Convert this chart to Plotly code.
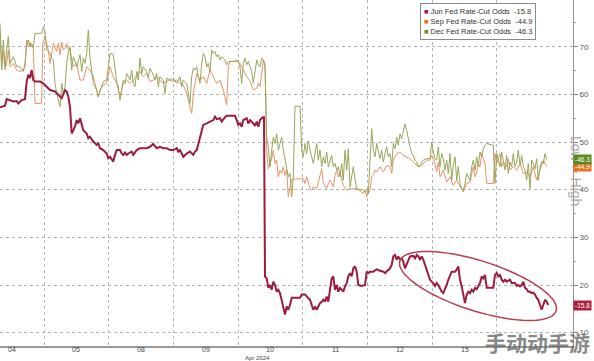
import numpy as np
import plotly.graph_objects as go

# ---------------- data ----------------
# time axis: "t" ticks; one trading session = SESSION ticks
SESSION = 64.7
FIRST_BOUNDARY = 44.0          # start of the 05 session
day_labels = ["04", "05", "08", "09", "10", "11", "12", "15"]
month_label = "Apr 2024"

jun_t = [0,5,6.7,10,13.3,16.7,18.3,21.7,25,26.7,28.3,30,31.7,33.3,35,40,43.3,46.7,50,55,58.3,61.7,65,66.7,68.3,70,71.7,75,76.7,78.3,80,81.7,83.3,86.7,88.3,90,93.3,96.7,98.3,100,103.3,106.7,108.3,110,113.3,115,116.7,120,121.7,123.3,125,126.7,128.3,131.7,133.3,136.7,140,143.3,146.7,150,153.3,156.7,160,163.3,166.7,170,173.3,176.7,178.3,180,183.3,186.7,190,193.3,195,196.7,200,203.3,206.7,210,213.3,215,216.7,220,221.7,225,226.7,230,235,236.7,238.3,240,241.7,243.3,246.7,248.3,250,253.3,255,256.7,258.3,260,262.7,264,265,266.7,268.3,270,271.7,273.3,275,276.7,278.3,280,281.7,283.3,285,286.7,288.3,290,291.7,295,300,301.7,305,306.7,310,311.7,313.3,315,316.7,318.3,320,321.7,323.3,325,326.7,328.3,330,331.7,333.3,335,336.7,338.3,340,341.7,343.3,345,346.7,348.3,350,351.7,353.3,355,356.7,358.3,361.7,365,366.7,368.3,370,373.3,376.7,380,383.3,385,386.7,388.3,390,391.7,393.3,395,396.7,398.3,400,401.7,403.3,405,406.7,408.3,410,413.3,415,416.7,418.3,420,421.7,423.3,425,426.7,428.3,430,431.7,433.3,435,436.7,438.3,440,441.7,443.3,445,446.7,448.3,450,451.7,455,456.7,458.3,460,461.7,463.3,465,466.7,468.3,470,471.7,473.3,475,476.7,478.3,480,481.7,483.3,485,486.7,490,493.3,495,496.7,498.3,500,501.7,503.3,505,506.7,508.3,510,511.7,515,516.7,518.3,520,521.7,523.3,525,526.7,528.3,530,531.7,533.3,535,536.7,538.3,540,541.7,543.3,545,546.7,548.3]
jun_v = [57.3,57.6,59.0,58.8,58.5,58.6,58.1,58.8,59.0,62.7,64.1,63.4,65.1,63.0,62.7,62.7,62.3,61.6,60.9,60.6,59.9,59.2,60.9,60.6,59.5,57.4,51.8,53.2,54.6,53.9,55.0,53.6,52.5,51.8,50.8,51.1,50.1,49.4,49.7,48.7,48.3,47.6,46.6,46.9,45.9,47.3,48.3,48.3,47.6,47.3,47.8,47.3,47.6,48.0,47.3,48.3,48.7,48.7,48.7,49.0,49.6,48.7,49.0,48.7,48.7,48.3,48.3,48.7,48.0,48.3,46.9,47.6,48.0,47.3,48.0,48.3,50.8,53.6,53.9,54.3,54.6,55.3,54.8,55.0,54.3,55.2,55.5,55.5,55.5,54.6,53.6,53.9,53.2,54.6,55.0,53.9,54.6,53.9,53.4,54.3,53.2,54.6,55.2,55.2,21.8,21.4,19.4,20.0,19.0,20.7,20.0,18.6,19.0,18.3,16.9,15.8,13.8,15.5,14.8,15.8,17.3,17.3,17.3,18.0,18.0,17.6,16.9,15.8,14.8,15.4,14.8,15.5,16.2,16.5,16.9,16.5,17.6,16.5,19.4,21.4,21.8,19.0,20.0,18.6,19.4,19.0,18.6,19.7,20.4,21.8,22.5,21.8,23.5,23.9,22.8,20.0,19.8,20.0,22.8,22.5,22.8,22.8,23.3,23.0,22.8,22.5,22.8,23.2,23.5,24.2,26.0,26.3,25.3,26.0,25.4,25.6,24.9,23.5,24.5,25.3,26.0,26.1,25.6,26.3,26.0,25.4,26.0,25.3,24.2,23.2,21.8,21.1,20.7,20.4,19.8,20.4,20.0,19.1,18.6,18.3,19.0,20.0,21.1,22.1,22.8,22.8,23.2,23.9,21.1,19.7,18.0,16.2,18.0,18.6,18.3,19.0,18.6,19.4,19.1,19.7,20.4,21.8,21.4,22.1,19.4,19.4,19.4,22.1,22.5,21.8,22.1,21.1,20.7,21.1,20.7,20.9,21.1,20.4,20.4,19.8,20.0,19.7,20.0,20.7,19.4,19.1,18.6,18.6,18.3,18.4,18.0,17.3,16.9,15.8,14.8,15.8,16.9,16.5,15.8]

sep_t = [0,1.7,3.3,5,6.7,8.3,10,13.3,16.7,20,23.3,25,26.7,28.3,30,31.7,33.3,35,41.7,42.7,45,46.7,48.3,50,51.7,53.3,55,56.7,58.3,60,61.7,63.3,65,66.7,68.3,70,71.7,73.3,76.7,80,83.3,86.7,90,93.3,96.7,98.3,100,103.3,106.7,110,113.3,116.7,120,123.3,126.7,130,133.3,136.7,140,143.3,146.7,150,153.3,156.7,160,163.3,166.7,170,173.3,176.7,180,183.3,186.7,190,191.7,193.3,196.7,200,203.3,206.7,210,213.3,216.7,220,223.3,226.7,228.3,230,233.3,236.7,240,243.3,246.7,250,251.7,253.3,256.7,258.3,260,261.7,263.3,265,266.7,268.3,270,271.7,273.3,275,276.7,278.3,280,281.7,283.3,285,286.7,288.3,290,291.7,293.3,301.7,303.3,305,306.7,308.3,310,311.7,313.3,316.7,318.3,320,321.7,323.3,325,326.7,328.3,330,333.3,335,336.7,338.3,340,341.7,343.3,346.7,350,356.7,363.3,365,366.7,368.3,370,371.7,373.3,375,376.7,380,383.3,386.7,390,391.7,393.3,396.7,400,403.3,406.7,410,413.3,416.7,420,423.3,426.7,430,431.7,435,436.7,438.3,440,443.3,446.7,450,453.3,456.7,460,463.3,466.7,470,471.7,473.3,475,476.7,478.3,480,481.7,483.3,485,486.7,493.3,495,496.7,498.3,500,501.7,503.3,506.7,508.3,510,513.3,516.7,520,523.3,526.7,530,533.3,536.7,540,543.3,546.7]
sep_v = [72.8,65.8,69.3,65.1,66.5,69.3,65.8,66.5,65.1,64.8,65.1,65.8,71.4,70.0,71.0,70.0,70.0,58.1,58.1,70.7,72.1,70.7,69.3,66.5,68.6,70.7,69.7,69.0,70.7,68.3,71.0,69.3,69.7,70.7,69.3,69.7,67.2,65.8,66.5,63.0,63.0,65.8,65.1,63.7,60.9,59.5,60.9,62.0,62.3,65.8,63.7,62.3,59.5,62.3,63.0,62.3,63.0,63.7,64.8,63.7,64.4,62.7,63.0,63.7,63.0,62.3,62.7,63.0,62.7,63.0,62.3,62.0,60.2,57.4,56.0,60.2,64.4,63.0,63.7,62.3,65.1,63.7,62.3,63.0,60.9,57.8,65.8,66.9,66.9,66.9,66.5,65.1,63.7,62.7,61.6,60.9,61.3,62.3,61.6,64.4,67.2,66.5,48.3,44.4,45.5,46.5,48.3,45.5,46.2,42.7,44.1,43.4,44.8,43.0,44.1,38.5,40.6,42.0,42.2,42.2,42.3,41.3,42.7,41.6,40.2,39.9,40.6,40.2,41.6,42.7,44.4,41.3,40.6,40.2,41.3,42.0,40.6,43.0,44.1,42.7,43.7,42.0,40.9,39.9,40.2,40.2,39.2,39.9,38.5,39.2,39.9,42.7,43.0,44.1,43.7,44.8,43.7,45.1,44.8,43.4,46.2,47.6,47.9,47.2,46.9,46.5,45.8,45.1,44.8,45.5,46.2,46.2,47.2,45.5,43.7,45.8,42.7,44.1,41.6,42.7,40.9,42.0,40.6,39.5,41.3,41.6,43.4,44.8,42.7,43.7,45.5,44.8,47.6,46.5,45.5,41.3,41.3,47.6,45.5,46.5,47.6,44.8,45.8,44.8,46.5,44.1,44.8,44.1,45.5,43.4,43.7,42.7,44.8,42.0,44.1,46.2,44.9]

dec_t = [0,1.7,3.3,5,6.7,8.3,10,13.3,16.7,20,23.3,25,26.7,28.3,30,31.7,33.3,35,41.7,43.3,45,46.7,50,51.7,53.3,55,56.7,58.3,60,61.7,63.3,65,66.7,68.3,70,71.7,73.3,75,76.7,80,81.7,83.3,85,86.7,88.3,90,91.7,93.3,96.7,98.3,100,101.7,103.3,106.7,110,113.3,115,116.7,118.3,120,121.7,123.3,125,126.7,130,131.7,133.3,135,136.7,138.3,140,141.7,143.3,146.7,148.3,150,153.3,155,156.7,158.3,160,163.3,165,166.7,170,173.3,176.7,180,181.7,183.3,186.7,188.3,190,191.7,193.3,195,196.7,198.3,200,201.7,203.3,205,206.7,208.3,210,211.7,213.3,215,216.7,218.3,220,221.7,223.3,225,226.7,228.3,233.3,236.7,238.3,240,241.7,243.3,245,246.7,248.3,250,251.7,253.3,255,256.7,258.3,260,261.7,263.3,265,266.7,268.3,270,271.7,273.3,275,276.7,278.3,280,281.7,283.3,285,286.7,288.3,290,291.7,293.3,295,300,301.7,303.3,305,306.7,308.3,310,311.7,313.3,315,316.7,318.3,320,321.7,323.3,325,326.7,328.3,330,331.7,333.3,335,336.7,338.3,340,341.7,343.3,345,346.7,348.3,350,351.7,353.3,355,356.7,360,363.3,365,366.7,368.3,370,371.7,373.3,375,376.7,378.3,380,381.7,383.3,385,386.7,388.3,390,391.7,393.3,395,396.7,398.3,400,401.7,403.3,405,406.7,408.3,410,411.7,413.3,415,416.7,418.3,420,423.3,426.7,430,431.7,433.3,435,436.7,438.3,440,441.7,443.3,445,446.7,448.3,450,451.7,453.3,455,456.7,458.3,460,461.7,463.3,465,466.7,470,471.7,473.3,475,476.7,478.3,480,481.7,483.3,485,486.7,493.3,495,496.7,498.3,500,501.7,503.3,505,506.7,508.3,510,511.7,513.3,515,516.7,518.3,520,521.7,523.3,525,526.7,528.3,530,531.7,533.3,535,536.7,538.3,540,541.7,543.3,545,546.7]
dec_v = [74.9,65.1,71.4,65.8,69.3,72.1,66.5,67.9,65.8,65.8,64.8,66.5,70.7,71.4,70.0,70.7,69.7,72.8,72.8,74.2,73.1,69.3,68.6,67.6,67.2,62.3,60.2,58.8,57.4,62.3,60.2,61.6,66.5,68.6,70.0,65.1,67.9,66.9,65.8,68.3,64.8,67.6,66.5,68.6,73.5,67.6,64.4,62.3,60.9,59.5,60.6,61.6,62.7,63.0,68.6,68.3,65.8,62.7,61.6,58.8,60.9,63.0,62.3,64.4,63.0,65.1,62.3,61.6,64.8,63.0,67.6,64.4,65.8,64.8,63.4,65.5,64.1,63.0,64.4,61.6,63.7,63.0,60.2,63.4,63.0,63.4,62.3,63.7,61.6,63.0,62.3,60.2,58.1,63.7,65.5,65.1,65.8,63.7,62.3,66.5,68.6,67.9,65.8,66.5,64.8,69.3,68.6,69.0,67.9,68.3,67.2,67.9,67.6,67.2,66.2,66.9,66.9,67.2,66.9,65.8,62.3,66.5,67.6,66.2,66.9,65.8,64.8,62.3,65.1,67.2,66.2,65.8,67.6,67.2,65.8,51.0,49.0,44.8,48.3,51.0,49.7,51.7,48.3,49.7,51.0,48.3,46.2,44.8,42.7,43.4,38.5,42.7,57.5,57.5,48.3,46.9,49.7,47.6,50.3,48.3,46.9,45.5,47.6,49.7,46.2,48.3,44.8,46.9,45.5,47.9,44.8,46.2,47.2,44.8,45.5,44.1,44.8,42.7,45.5,42.0,48.3,44.1,48.6,40.6,42.7,44.8,42.3,40.2,40.0,40.0,39.5,40.2,39.2,44.8,52.8,48.3,46.9,49.7,48.3,46.5,48.3,45.8,47.6,49.0,46.9,47.6,44.8,49.7,48.6,51.0,49.3,51.7,50.7,52.4,53.8,52.4,50.3,49.0,47.6,47.2,46.2,45.8,44.8,45.1,46.2,46.5,46.5,50.0,47.9,46.5,46.2,49.0,44.8,47.6,46.5,44.1,46.2,43.4,47.6,42.0,45.1,46.9,42.0,44.8,41.3,40.2,39.9,41.3,43.4,42.0,44.8,46.2,44.1,46.9,44.8,47.9,46.9,48.6,49.3,49.7,49.3,41.3,47.6,46.5,44.8,47.9,46.2,44.1,47.2,43.4,45.8,44.8,47.6,44.8,45.8,48.3,45.1,47.2,44.8,44.1,42.0,45.5,40.2,46.2,45.5,44.4,46.5,42.0,44.8,45.8,45.5,47.6,46.3]

series_names = ["Jun Fed Rate-Cut Odds", "Sep Fed Rate-Cut Odds", "Dec Fed Rate-Cut Odds"]
last_values = [jun_v[-1], sep_v[-1], dec_v[-1]]
y_ticks = [10, 20, 30, 40, 50, 60, 70, 80]

# ---------------- style ----------------
C_JUN, C_SEP, C_DEC = "#9c1c3e", "#e8946a", "#97a75a"
L_JUN, L_SEP, L_DEC = "#a31a42", "#e8731f", "#6f8c1f"
X_RANGE = [0, 573]
Y_RANGE = [7.2, 79.8]
W, H = 594, 361
M = dict(l=0, r=21, t=0, b=15)
FONT = "Liberation Sans, Arial, sans-serif"

fig = go.Figure()
fig.add_trace(go.Scatter(x=sep_t, y=sep_v, mode="lines", line=dict(color=C_SEP, width=1), showlegend=False, hoverinfo="skip"))
fig.add_trace(go.Scatter(x=dec_t, y=dec_v, mode="lines", line=dict(color=C_DEC, width=1), showlegend=False, hoverinfo="skip"))
fig.add_trace(go.Scatter(x=jun_t, y=jun_v, mode="lines", line=dict(color=C_JUN, width=2), showlegend=False, hoverinfo="skip"))

boundaries = [FIRST_BOUNDARY + SESSION * k for k in range(len(day_labels))]
centers = [FIRST_BOUNDARY + SESSION * (k - 0.5) for k in range(len(day_labels))]

fig.update_xaxes(range=X_RANGE, tickvals=boundaries, showticklabels=False, ticks="",
                 showgrid=True, griddash="dot", gridcolor="#b4b4b4", gridwidth=1,
                 showline=True, linecolor="#9a9a9a", linewidth=2, zeroline=False, automargin=False)
fig.update_yaxes(range=Y_RANGE, side="right", tickvals=y_ticks, ticktext=[str(v) for v in y_ticks],
                 showgrid=True, griddash="dot", gridcolor="#b4b4b4", gridwidth=1,
                 showline=True, linecolor="#a08c94", linewidth=1, ticks="outside", ticklen=4,
                 tickcolor="#8a7a80", tickfont=dict(size=8, color="#555", family=FONT),
                 minor=dict(dtick=5, ticks="outside", ticklen=2, tickcolor="#999"),
                 zeroline=False, automargin=False)

ann = []
for c, lab in zip(centers, day_labels):
    ann.append(dict(x=c, y=0, xref="x", yref="paper", yanchor="top", yshift=1, text=lab,
                    showarrow=False, borderpad=0, font=dict(size=7, color="#444", family=FONT)))
ann.append(dict(x=FIRST_BOUNDARY + SESSION * 3.3, y=0, xref="x", yref="paper", yanchor="bottom", yshift=-15.5,
                text=month_label, showarrow=False, borderpad=0, font=dict(size=6, color="#444", family=FONT)))

# Low / High tag on right axis
ann.append(dict(x=1.023, y=43.9, xref="paper", yref="y", text="Low > High", textangle=90,
                showarrow=False, font=dict(size=14, color="#aaaaaa", family=FONT)))

# last value boxes
for val, col in [(last_values[1], L_SEP), (last_values[2], "#5e8a1e"), (last_values[0], "#b0203c")]:
    ann.append(dict(x=1.0, y=val, xref="paper", yref="y", xanchor="left", yanchor="middle",
                    text="-%.1f" % val, showarrow=False, bgcolor=col, borderpad=1,
                    font=dict(size=6.5, color="white", family=FONT)))

# legend box
leg_lines = []
for name, col, v in zip(series_names, [L_JUN, L_SEP, L_DEC], last_values):
    leg_lines.append("<span style='color:%s'>■</span> %s  -%.1f" % (col, name, v))
ann.append(dict(x=420 / 573, y=1, xref="paper", yref="paper", xanchor="left", yanchor="top", yshift=-3,
                text="<br>".join(leg_lines), align="left", showarrow=False, bgcolor="white",
                bordercolor="#8a8a8a", borderwidth=1, borderpad=3,
                font=dict(size=7.5, color="#333", family=FONT)))

# watermark
ann.append(dict(x=537 / 573, y=(346 - 342) / 346, xref="paper", yref="paper", xanchor="center", yanchor="middle",
                text="<b>手动动手游</b>", showarrow=False,
                font=dict(size=21, color="rgba(105,105,105,0.8)", family="Noto Sans CJK SC")))

# hand-drawn highlight ellipse around the latest Jun moves
px_per_unit = (H - M["t"] - M["b"]) / (Y_RANGE[1] - Y_RANGE[0])
cx, cy_val = 478, 19.8
a, b, th = 82, 25, np.deg2rad(17.7)
tt = np.linspace(0, 2 * np.pi, 80)
ex = a * np.cos(tt) * np.cos(th) - b * np.sin(tt) * np.sin(th)
ey = a * np.cos(tt) * np.sin(th) + b * np.sin(tt) * np.cos(th)
pts = [(cx + dx, cy_val - dy / px_per_unit) for dx, dy in zip(ex, ey)]
path = "M " + " L ".join("%.2f,%.3f" % p for p in pts) + " Z"
fig.add_shape(type="path", path=path, xref="x", yref="y", line=dict(color="#b8404c", width=1.5))

fig.update_layout(width=W, height=H, margin=dict(**M, autoexpand=False), plot_bgcolor="white",
                  paper_bgcolor="white", annotations=ann, showlegend=False,
                  font=dict(family=FONT))
fig.write_html("out.html")
